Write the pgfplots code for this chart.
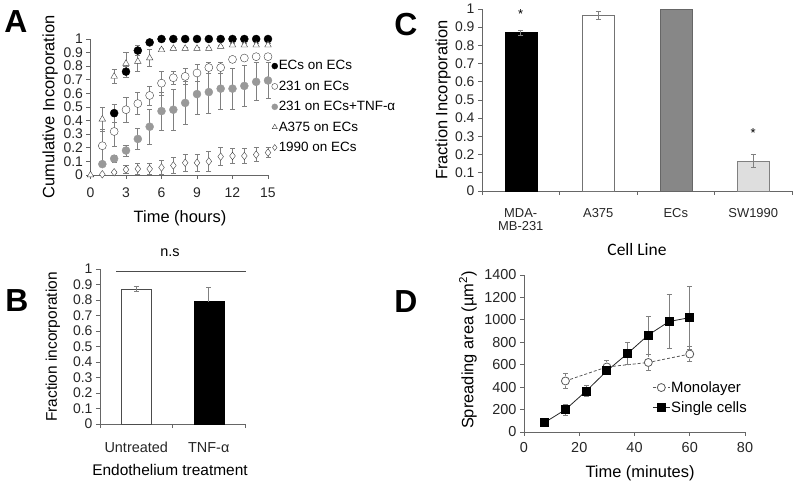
\documentclass[border=0pt]{standalone}
\usepackage{fontspec}
\setmainfont{Liberation Sans}
\newfontfamily\calibri{Carlito}
\usepackage{pgfplots}
\usepackage{pgfplotstable}
\pgfplotsset{compat=1.18}
\newcommand{\fs}[1]{\fontsize{#1}{#1}\selectfont}
\pgfplotsset{excel/.style={
  scale only axis, axis x line=bottom, axis y line=left,
  axis line style={-, draw=black!60, line width=0.8bp},
  every tick/.style={draw=black!60, line width=0.8bp}, tick align=outside, major tick length=4bp,
  /pgf/number format/assume math mode=true,
  /pgf/number format/1000 sep={},
  tick label style={font=\fs{14}, text=black!85},
  clip=false, anchor=south west,
  ebar/.style={error bars/.cd, y dir=both, y explicit,
     error bar style={black!50, line width=0.8bp},
     error mark options={rotate=90, black!50, mark size=2.5bp, line width=0.8bp}},
}}
% Panel A data
\pgfplotstableread{
x y e
2 0.455 0.065
3 0.76 0.04
4 0.915 0.035
5 0.975 0.01
6 1 0
7 1 0
8 1 0
9 1 0
10 1 0
11 1 0
12 1 0
13 1 0
14 1 0
15 1 0
}\ecs
\pgfplotstableread{
x y e
1 0.215 0.12
2 0.32 0.11
3 0.48 0.09
4 0.525 0.08
5 0.585 0.07
6 0.675 0.09
7 0.715 0.05
8 0.725 0.06
9 0.75 0.06
10 0.79 0.04
11 0.79 0.04
12 0.85 0.01
13 0.86 0.01
14 0.87 0.01
15 0.87 0.01
}\cell
\pgfplotstableread{
x y e
1 0.08 0.0
2 0.12 0.025
3 0.18 0.04
4 0.265 0.08
5 0.355 0.13
6 0.47 0.14
7 0.48 0.15
8 0.53 0.16
9 0.595 0.15
10 0.61 0.16
11 0.635 0.15
12 0.635 0.15
13 0.655 0.15
14 0.685 0.14
15 0.695 0.13
}\tnf
\pgfplotstableread{
x y e
0 0 0
1 0.41 0.09
2 0.725 0.05
3 0.82 0.08
4 0.835 0.07
5 0.86 0.06
6 0.92 0.01
7 0.93 0.01
8 0.93 0.01
9 0.93 0.01
10 0.93 0.01
11 0.945 0.01
12 0.955 0.01
13 0.955 0.01
14 0.955 0.01
15 0.955 0.01
}\ast
\pgfplotstableread{
x y e
1 0.005 0
2 0.02 0.01
3 0.04 0.03
4 0.045 0.04
5 0.045 0.04
6 0.055 0.05
7 0.07 0.06
8 0.09 0.06
9 0.09 0.065
10 0.1 0.07
11 0.135 0.065
12 0.14 0.055
13 0.14 0.055
14 0.15 0.05
15 0.165 0.035
}\nineteen
\begin{document}
\begin{tikzpicture}
\path[use as bounding box] (0,0) rectangle (794bp,488bp);
% ---------------- Panel A
\begin{axis}[excel, at={(90.5bp,313bp)}, width=177.5bp, height=136bp,
  xmin=0, xmax=15, ymin=0, ymax=1,
  xtick={0,3,6,9,12,15}, ytick={0,0.1,0.2,0.3,0.4,0.5,0.6,0.7,0.8,0.9,1},
  xticklabel style={yshift=-5bp},
  legend style={at={(1.02,0.85)}, anchor=north west, draw=none, fill=none,
    font=\fs{13.5}, inner sep=0pt, row sep=7.5bp, nodes={inner sep=1bp}},
  legend image post style={mark size=3bp},
  legend cell align=left]
\addplot[only marks, mark=*, mark size=4bp, mark options={draw=black, fill=black}, ebar] table[x=x, y=y, y error=e] {\ecs};
\addlegendentry{ECs on ECs}
\addplot[only marks, mark=*, mark size=4bp, mark options={draw=black!75, fill=white}, ebar] table[x=x, y=y, y error=e] {\cell};
\addlegendentry{231 on ECs}
\addplot[only marks, mark=*, mark size=4bp, mark options={draw=black!40, fill=black!40}, ebar] table[x=x, y=y, y error=e] {\tnf};
\addlegendentry{231 on ECs+TNF-α}
\addplot[only marks, mark=triangle*, mark size=3.8bp, mark options={draw=black!75, fill=white}, ebar] table[x=x, y=y, y error=e] {\ast};
\addlegendentry{A375 on ECs}
\addplot[only marks, mark=diamond*, mark size=3.8bp, mark options={draw=black!75, fill=white}, ebar] table[x=x, y=y, y error=e] {\nineteen};
\addlegendentry{1990 on ECs}
\end{axis}
% ---------------- Panel B
\begin{axis}[excel, at={(100bp,64bp)}, width=145bp, height=155bp,
  xmin=0, xmax=2, ymin=0, ymax=1,
  ytick={0,0.1,0.2,0.3,0.4,0.5,0.6,0.7,0.8,0.9,1},
  xtick={0,1,2}, xticklabels={},
  extra x ticks={0.5,1.5}, extra x tick labels={Untreated,TNF-α},
  extra x tick style={major tick length=0pt, tick label style={font=\fs{14.5}, yshift=-15bp}}]
\addplot[ybar, bar width=30bp, bar shift=0pt, fill=white, draw=black!70, ebar] coordinates {(0.5,0.87) +- (0,0.015)};
\addplot[ybar, bar width=30bp, bar shift=0pt, fill=black, draw=black, error bars/.cd, y dir=plus, y explicit,
     error bar style={black!50, line width=0.8bp},
     error mark options={rotate=90, black!50, mark size=2.5bp, line width=0.8bp}] coordinates {(1.5,0.79) +- (0,0.09)};
\end{axis}
% ---------------- Panel C
\begin{axis}[excel, at={(482bp,297bp)}, width=310bp, height=182bp,
  xmin=0, xmax=4, ymin=0, ymax=1,
  ytick={0,0.1,0.2,0.3,0.4,0.5,0.6,0.7,0.8,0.9,1},
  xtick={0,1,2,3,4}, xticklabels={},
  extra x ticks={0.5,1.5,2.5,3.5}, extra x tick labels={MDA-\\MB-231,A375,ECs,SW1990},
  extra x tick style={major tick length=0pt, tick label style={font=\fs{13}, align=center, yshift=-14bp}}]
\addplot[ybar, bar width=32bp, bar shift=0pt, fill=black, draw=black, ebar] coordinates {(0.5,0.87) +- (0,0.015)};
\addplot[ybar, bar width=32bp, bar shift=0pt, fill=white, draw=black!55, ebar] coordinates {(1.5,0.965) +- (0,0.02)};
\addplot[ybar, bar width=32bp, bar shift=0pt, fill=black!47, draw=black!60] coordinates {(2.5,1)};
\addplot[ybar, bar width=32bp, bar shift=0pt, fill=black!13, draw=black!50, ebar] coordinates {(3.5,0.165) +- (0,0.035)};
\node[font=\fs{13}] at (axis cs:0.5,0.975) {*};
\node[font=\fs{13}] at (axis cs:3.5,0.32) {*};
\end{axis}
% ---------------- Panel D
\begin{axis}[excel, at={(524bp,56bp)}, width=221bp, height=157bp,
  xmin=0, xmax=80, ymin=0, ymax=1400,
  xtick={0,20,40,60,80}, ytick={0,200,400,600,800,1000,1200,1400},
  tick label style={font=\fs{14.5}},
  xticklabel style={yshift=-3bp},
  legend style={at={(rel axis cs:0.58,0.33)}, anchor=north west, draw=none, fill=none,
    font=\fs{15}, inner sep=0pt, row sep=6bp, nodes={inner sep=1bp}},
  legend cell align=left]
\addplot[densely dashed, draw=black!65, line width=0.8bp, mark=*, mark size=4bp, mark options={solid, draw=black!65, fill=white}, ebar] coordinates {
(15,455) +- (0,65) (30,580) +- (0,60) (45,620) +- (0,75) (60,695) +- (0,65)};
\addlegendentry{Monolayer}
\addplot[solid, draw=black!85, line width=0.8bp, mark=square*, mark size=4bp, mark options={draw=black, fill=black}, ebar] coordinates {
(7.5,85) +- (0,0) (15,200) +- (0,50) (22.5,365) +- (0,50) (30,545) +- (0,30) (37.5,700) +- (0,100) (45,865) +- (0,170) (52.5,985) +- (0,240) (60,1020) +- (0,280)};
\addlegendentry{Single cells}
\end{axis}
% ---------------- labels
\node[font=\fs{32}\bfseries] at (16bp,466bp) {A};
\node[font=\fs{32}\bfseries] at (17bp,187bp) {B};
\node[font=\fs{32}\bfseries] at (406bp,463bp) {C};
\node[font=\fs{32}\bfseries] at (406bp,186bp) {D};
\node[font=\fs{16.5}, rotate=90] at (50bp,381bp) {Cumulative Incorporation};
\node[font=\fs{16.5}] at (180bp,270bp) {Time (hours)};
\node[font=\fs{15.5}, rotate=90] at (53bp,141bp) {Fraction incorporation};
\node[font=\fs{15.5}] at (170bp,18bp) {Endothelium treatment};
\node[font=\fs{14.5}] at (170bp,235bp) {n.s};
\draw[black!70, line width=0.8bp] (116bp,217bp) -- (246bp,217bp);
\node[font=\fs{16.5}, rotate=90] at (443bp,388bp) {Fraction Incorporation};
\node[font=\calibri\fs{17.5}] at (637bp,238bp) {Cell Line};
\node[font=\fs{16.5}, rotate=90] at (468bp,138bp) {Spreading area (µm\textsuperscript{2})};
\node[font=\fs{16.5}] at (640bp,15bp) {Time (minutes)};
\end{tikzpicture}
\end{document}
